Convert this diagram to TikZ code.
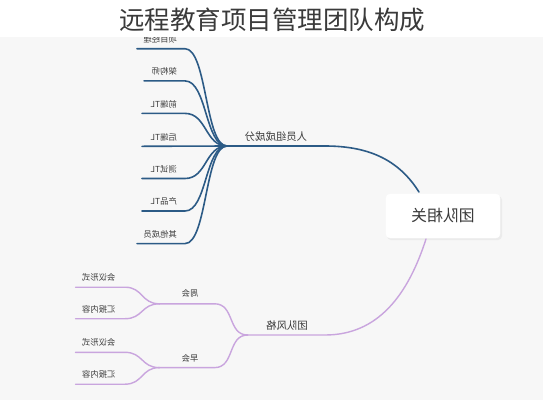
\documentclass[tikz,border=0pt]{standalone}
\usepackage{fontspec}
\usepackage{graphicx}
\newfontfamily\cjk{Noto Sans CJK SC}
\definecolor{bgc}{HTML}{F7F7F7}
\definecolor{bluel}{HTML}{2C5B86}
\definecolor{purl}{HTML}{C9A5DE}
\definecolor{txt}{HTML}{3A3A3A}
\tikzset{
  leaftxt/.style={anchor=east, inner sep=0pt, text=txt, font=\cjk\fontsize{8.3}{9}\selectfont},
  midtxt/.style={inner sep=0pt, text=txt, font=\cjk\fontsize{10.4}{12}\selectfont},
  blueline/.style={draw=bluel, line width=1.6pt, line cap=round},
  purline/.style={draw=purl, line width=1.4pt, line cap=round},
}
\newcommand{\mir}[1]{\reflectbox{#1}}
\begin{document}
\begin{tikzpicture}[x=1pt,y=-1pt]
\useasboundingbox (0,0) rectangle (543,400);
\fill[bgc] (0,0) rectangle (543,400);

% ---------- top branch: 人员组成成分 ----------
\coordinate (hA) at (227,146);
\coordinate (mA) at (325,146);
\foreach \i/\y/\xl in {1/48.7/137,2/80.9/144,3/113.4/142,4/146.3/142,5/178.5/142,6/211/142,7/243.6/137}{
  \coordinate (a\i e) at (185,\y);
  \coordinate (a\i s) at (\xl,\y);
}
\foreach \i in {1,2,3,5,6,7}{
  \draw[blueline] (hA) .. controls +(-22,0) and +(22,0) .. (a\i e) -- (a\i s);
}
\draw[blueline] (hA) -- (a4s);
\node[leaftxt] (t1) at (177,39.5) {\mir{项目经理}};
\node[leaftxt] (t2) at (177,71.5) {\mir{架构师}};
\node[leaftxt] (t3) at (177,104) {\mir{前端TL}};
\node[leaftxt] (t4) at (177,137) {\mir{后端TL}};
\node[leaftxt] (t5) at (177,169) {\mir{测试TL}};
\node[leaftxt] (t6) at (177,201.5) {\mir{产品TL}};
\node[leaftxt] (t7) at (177,234) {\mir{其他成员}};
\node[midtxt] (lA) at (276,137) {\mir{人员组成成分}};

% ---------- root ----------
\fill[black!8, rounded corners=4pt] (387,196) rectangle (502,240);
\node[draw=white, fill=white, rounded corners=4pt, minimum width=114pt, minimum height=44pt, inner sep=0pt,
      text=txt, font=\cjk\fontsize{15.8}{18}\selectfont] (root) at (443,216) {\mir{团队相关}};
\coordinate (rT) at (419,192);
\coordinate (rB) at (426,239);
\draw[blueline] (mA) -- (hA);
\draw[blueline] (rT) .. controls (400,162) and (372,146) .. (mA);

% ---------- bottom branch: 团队风格 ----------
\coordinate (hB) at (247.6,335);
\coordinate (mB) at (325,335);
\draw[purline] (rB) .. controls (408,295) and (378,335) .. (mB) -- (hB);
\node[midtxt] (lB) at (287,326) {\mir{团队风格}};

\coordinate (w1) at (214.7,303.8);
\coordinate (w2) at (159.3,303.8);
\coordinate (z1) at (214.7,367.6);
\coordinate (z2) at (159.3,367.6);
\draw[purline] (hB) .. controls +(-20,0) and +(20,0) .. (w1) -- (w2);
\draw[purline] (hB) .. controls +(-20,0) and +(20,0) .. (z1) -- (z2);
\node[leaftxt, anchor=center] (tw) at (190,293.5) {\mir{周会}};
\node[leaftxt, anchor=center] (tz) at (190,358) {\mir{早会}};

\foreach \h/\a/\b/\n in {w2/287.2/318.7/w, z2/352.3/384.2/z}{
  \coordinate (\n a1) at (125,\a);
  \coordinate (\n a2) at (75.5,\a);
  \coordinate (\n b1) at (125,\b);
  \coordinate (\n b2) at (75.5,\b);
  \draw[purline] (\h) .. controls +(-18,0) and +(18,0) .. (\n a1) -- (\n a2);
  \draw[purline] (\h) .. controls +(-18,0) and +(18,0) .. (\n b1) -- (\n b2);
}
\node[leaftxt] (wa) at (115.5,277.5) {\mir{会议形式}};
\node[leaftxt] (wb) at (115.5,309.5) {\mir{汇报内容}};
\node[leaftxt] (za) at (115.5,342.5) {\mir{会议形式}};
\node[leaftxt] (zb) at (115.5,374.5) {\mir{汇报内容}};

% ---------- title band ----------
\fill[white] (0,0) rectangle (543,37);
\node[inner sep=0pt, text=txt, font=\cjk\fontsize{25.5}{28}\selectfont] (title) at (272,20) {远程教育项目管理团队构成};
\end{tikzpicture}
\end{document}
